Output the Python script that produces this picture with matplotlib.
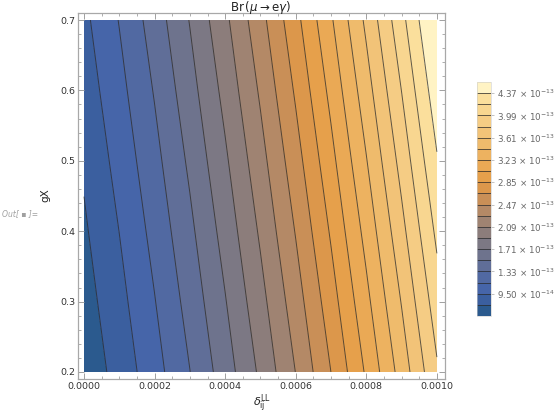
import numpy as np
import matplotlib
matplotlib.use("Agg")
import matplotlib.pyplot as plt
from matplotlib.ticker import MultipleLocator

# Br(mu -> e gamma), in units of 1e-14
delta = [0.0, 0.0001, 0.0002, 0.0003, 0.0004, 0.0005,
         0.0006, 0.0007, 0.0008, 0.0009, 0.0010]
gx = [0.2, 0.3, 0.4, 0.5, 0.6, 0.7]
br = [
    [6.28, 8.32, 10.65, 13.27, 16.17, 19.36, 22.84, 26.61, 30.66, 35.00, 39.63],
    [6.79, 8.91, 11.32, 14.01, 16.99, 20.26, 23.81, 27.66, 31.79, 36.20, 40.91],
    [7.33, 9.52, 12.00, 14.77, 17.83, 21.18, 24.81, 28.73, 32.93, 37.43, 42.21],
    [7.88, 10.15, 12.71, 15.56, 18.69, 22.11, 25.82, 29.82, 34.10, 38.67, 43.53],
    [8.46, 10.81, 13.44, 16.37, 19.58, 23.07, 26.86, 30.93, 35.29, 39.93, 44.87],
    [9.06, 11.48, 14.19, 17.19, 20.48, 24.05, 27.91, 32.06, 36.50, 41.22, 46.23],
]
levels = [7.6, 9.5, 11.4, 13.3, 15.2, 17.1, 19.0, 20.9, 22.8, 24.7,
          26.6, 28.5, 30.4, 32.3, 34.2, 36.1, 38.0, 39.9, 41.8, 43.7]
band_colors = [
    "#2b5a8e", "#3b5f9f", "#4665a9", "#5169a2", "#606e98", "#6e738d",
    "#7c7884", "#8c7d7b", "#9f8372", "#b48966", "#c98f57", "#dc974b",
    "#e6a04b", "#eaa955", "#edb260", "#efbb6c", "#f2c378", "#f5cc84",
    "#f8d690", "#fbdf9c", "#fff3c4",
]


def sci_label(v):
    # v is in units of 1e-14
    val = v * 1e-14
    exp = int(np.floor(np.log10(val)))
    mant = val / 10 ** exp
    return rf"{mant:.2f} $\times$ 10$^{{{exp}}}$"


fig = plt.figure(figsize=(5.54, 4.15), dpi=100)
ax = fig.add_axes([78 / 554, 1 - 379 / 415, 367 / 554, 366 / 415])

Z = np.array(br)
bounds = [0.0] + levels + [100.0]
cf = ax.contourf(delta, gx, Z, levels=bounds, colors=band_colors)
cs = ax.contour(delta, gx, Z, levels=levels, colors="#2a2a2a",
                linewidths=0.7, alpha=0.75)

ax.set_xlim(-0.000017, 0.001023)
ax.set_ylim(0.19, 0.71)
ax.xaxis.set_major_locator(MultipleLocator(0.0002))
ax.xaxis.set_minor_locator(MultipleLocator(0.00005))
ax.yaxis.set_major_locator(MultipleLocator(0.1))
ax.yaxis.set_minor_locator(MultipleLocator(0.02))
ax.xaxis.set_major_formatter(lambda x, p: f"{x:.4f}")
ax.yaxis.set_major_formatter(lambda y, p: f"{y:.1f}")
ax.tick_params(which="both", direction="in", top=True, right=True,
               color="#a0a0a0", labelsize=6.8, labelcolor="#333333", pad=2)
ax.tick_params(which="major", length=4, width=0.7)
ax.tick_params(which="minor", length=2.3, width=0.6)
for sp in ax.spines.values():
    sp.set_color("#a8a8a8")
    sp.set_linewidth(0.9)

fig.text(261 / 554, 1 - 7 / 415, r"Br$\,(\mu \rightarrow \mathrm{e}\gamma)$",
         ha="center", va="center", fontsize=8.5, color="#222222")
fig.text(45 / 554, 1 - 195 / 415, "gX", rotation=90, ha="center",
         va="center", fontsize=7.5, color="#222222")
fig.text(262 / 554, 1 - 404 / 415, r"$\delta_{\mathrm{ij}}^{\mathrm{LL}}$",
         ha="center", va="center", fontsize=8, color="#222222")
fig.text(2 / 554, 1 - 214 / 415, "Out[ \u25aa ]=", ha="left", va="center",
         fontsize=5.5, color="#a0a0a0", style="italic")

# legend bar
cax = fig.add_axes([477 / 554, 1 - 316 / 415, 14 / 554, 234 / 415])
cb = fig.colorbar(cf, cax=cax, spacing="uniform", ticks=levels[1::2])
cb.add_lines(cs, erase=False)
cb.set_ticklabels([sci_label(v) for v in levels[1::2]])
cb.outline.set_edgecolor("#cccccc")
cb.outline.set_linewidth(0.4)
cax.tick_params(length=2.5, width=0.5, color="#aaaaaa", labelsize=6.3,
                labelcolor="#666666", pad=2)

fig.savefig("out.png", dpi=100)
